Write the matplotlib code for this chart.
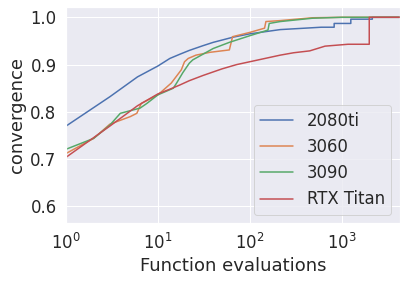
import numpy as np
import matplotlib
matplotlib.use("Agg")
import matplotlib.pyplot as plt
import seaborn as sns

# evaluations / convergence
x_2080ti = [1, 3, 6, 10, 13.5, 17.4, 22, 31, 40, 66, 100, 215, 400, 600, 830, 830, 1260, 1260, 2160, 2160, 4270]
y_2080ti = [0.770, 0.832, 0.874, 0.897, 0.913, 0.922, 0.930, 0.940, 0.947, 0.958, 0.965, 0.974, 0.977, 0.979, 0.979, 0.987, 0.987, 0.996, 0.996, 1.0, 1.0]

x_3060 = [1, 2, 3, 5, 5.9, 6.6, 10, 14, 18, 19.5, 21.4, 26, 37, 60, 65, 100, 145, 150, 215, 480, 1000, 4270]
y_3060 = [0.712, 0.744, 0.774, 0.790, 0.797, 0.818, 0.836, 0.861, 0.889, 0.906, 0.913, 0.920, 0.926, 0.931, 0.959, 0.968, 0.977, 0.991, 0.993, 0.999, 1.0, 1.0]

x_3090 = [1, 2, 3, 3.9, 6.4, 7.6, 10, 14.7, 16, 18.7, 22, 24, 40, 60, 100, 158, 163, 215, 480, 1000, 4270]
y_3090 = [0.721, 0.744, 0.772, 0.797, 0.808, 0.818, 0.836, 0.850, 0.861, 0.883, 0.903, 0.910, 0.934, 0.947, 0.961, 0.973, 0.987, 0.991, 0.998, 1.0, 1.0]

x_titan = [1, 3, 6, 10, 13.5, 17.4, 22, 31, 50, 72, 100, 215, 300, 450, 660, 1175, 2000, 2000, 4270]
y_titan = [0.704, 0.770, 0.813, 0.838, 0.848, 0.857, 0.866, 0.877, 0.891, 0.900, 0.906, 0.920, 0.925, 0.929, 0.939, 0.943, 0.943, 1.0, 1.0]

sns.set_theme(style="darkgrid", font_scale=1.5)

fig, ax = plt.subplots(figsize=(406 / 72, 283 / 72), dpi=72)
fig.subplots_adjust(left=0.1626, right=0.984, top=0.974, bottom=0.211)

ax.plot(x_2080ti, y_2080ti, label="2080ti")
ax.plot(x_3060, y_3060, label="3060")
ax.plot(x_3090, y_3090, label="3090")
ax.plot(x_titan, y_titan, label="RTX Titan")

ax.set_xscale("log")
ax.set_xlim(1, 4270)
ax.set_ylim(0.5645, 1.021)
ax.set_xlabel("Function evaluations")
ax.set_ylabel("convergence")
ax.legend(loc="lower right")

fig.savefig("out.png", dpi=72)
